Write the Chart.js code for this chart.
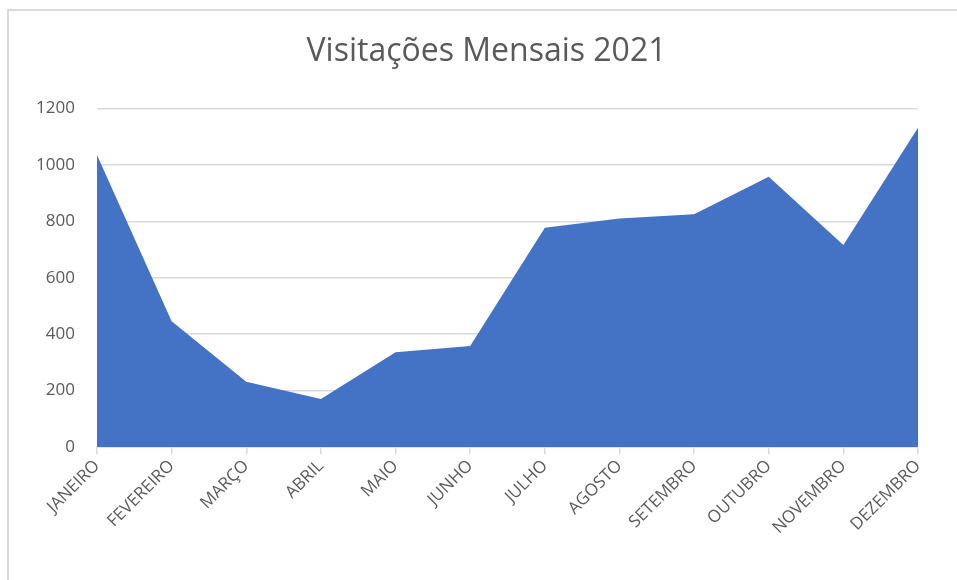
<!DOCTYPE html>
<html>
<head>
<meta charset="utf-8">
<script src="https://cdn.jsdelivr.net/npm/chart.js@4"></script>
<style>
    html, body { margin: 0; padding: 0; background: #fff; }
    #wrap { position: relative; width: 957px; height: 580px; }
    #frame {
        position: absolute; left: 7px; top: 9px; right: 0; bottom: 0;
        border-left: 2px solid #d9d9d9; border-top: 2px solid #d9d9d9;
        pointer-events: none;
    }
</style>
</head>
<body>
<div id="wrap">
    <canvas id="visitas" width="957" height="580"></canvas>
    <div id="frame"></div>
</div>
<script>
// dados
const meses = ['JANEIRO', 'FEVEREIRO', 'MARÇO', 'ABRIL', 'MAIO', 'JUNHO',
    'JULHO', 'AGOSTO', 'SETEMBRO', 'OUTUBRO', 'NOVEMBRO', 'DEZEMBRO'];
const visitas = [1035, 446, 231, 170, 336, 358, 777, 810, 825, 958, 716, 1131];
const yTicks = [0, 200, 400, 600, 800, 1000, 1200];

const fonte = '"Open Sans", sans-serif';
const cinza = '#595959';

function generateAreaChart(canvasId, labels, data, titulo) {
    const chartData = {
        labels: labels,
        datasets: [{
            label: 'Visitas',
            data: data,
            backgroundColor: '#4472C4',
            borderWidth: 0,
            pointRadius: 0,
            fill: 'origin',
            tension: 0
        }]
    };

    const config = {
        type: 'line',
        data: chartData,
        options: {
            responsive: false,
            animation: false,
            layout: { padding: { left: 16, right: 0, top: 0, bottom: 0 } },
            plugins: {
                legend: { display: false },
                tooltip: { enabled: false },
                title: {
                    display: true,
                    text: titulo,
                    color: cinza,
                    font: { family: fonte, size: 32, weight: 'normal' },
                    padding: { top: 33, bottom: 37 }
                }
            },
            scales: {
                x: {
                    offset: false,
                    grid: {
                        drawOnChartArea: false,
                        drawTicks: true,
                        tickLength: 7,
                        color: '#d9d9d9',
                        lineWidth: 1.5
                    },
                    border: { color: '#d9d9d9', width: 1.5 },
                    ticks: {
                        color: cinza,
                        font: { family: fonte, size: 17 },
                        minRotation: 45,
                        maxRotation: 45,
                        padding: 2,
                        autoSkip: false
                    },
                    afterFit: function(scale) { scale.height = 133; }
                },
                y: {
                    min: 0,
                    max: 1200,
                    afterBuildTicks: function(scale) {
                        scale.ticks = yTicks.map(v => ({ value: v }));
                    },
                    grid: { color: '#d9d9d9', lineWidth: 1.5, drawTicks: false },
                    border: { display: false },
                    ticks: {
                        color: cinza,
                        font: { family: fonte, size: 17 },
                        padding: 22,
                        callback: function(value) { return String(value); }
                    },
                    afterFit: function(scale) { scale.width = 81; }
                },
                // eixo vazio a direita, so para reservar a margem
                y2: {
                    position: 'right',
                    grid: { display: false },
                    border: { display: false },
                    ticks: { display: false },
                    afterFit: function(scale) { scale.width = 39; }
                }
            }
        }
    };

    return new Chart(document.getElementById(canvasId), config);
}

generateAreaChart('visitas', meses, visitas, 'Visitações Mensais 2021');
</script>
</body>
</html>
